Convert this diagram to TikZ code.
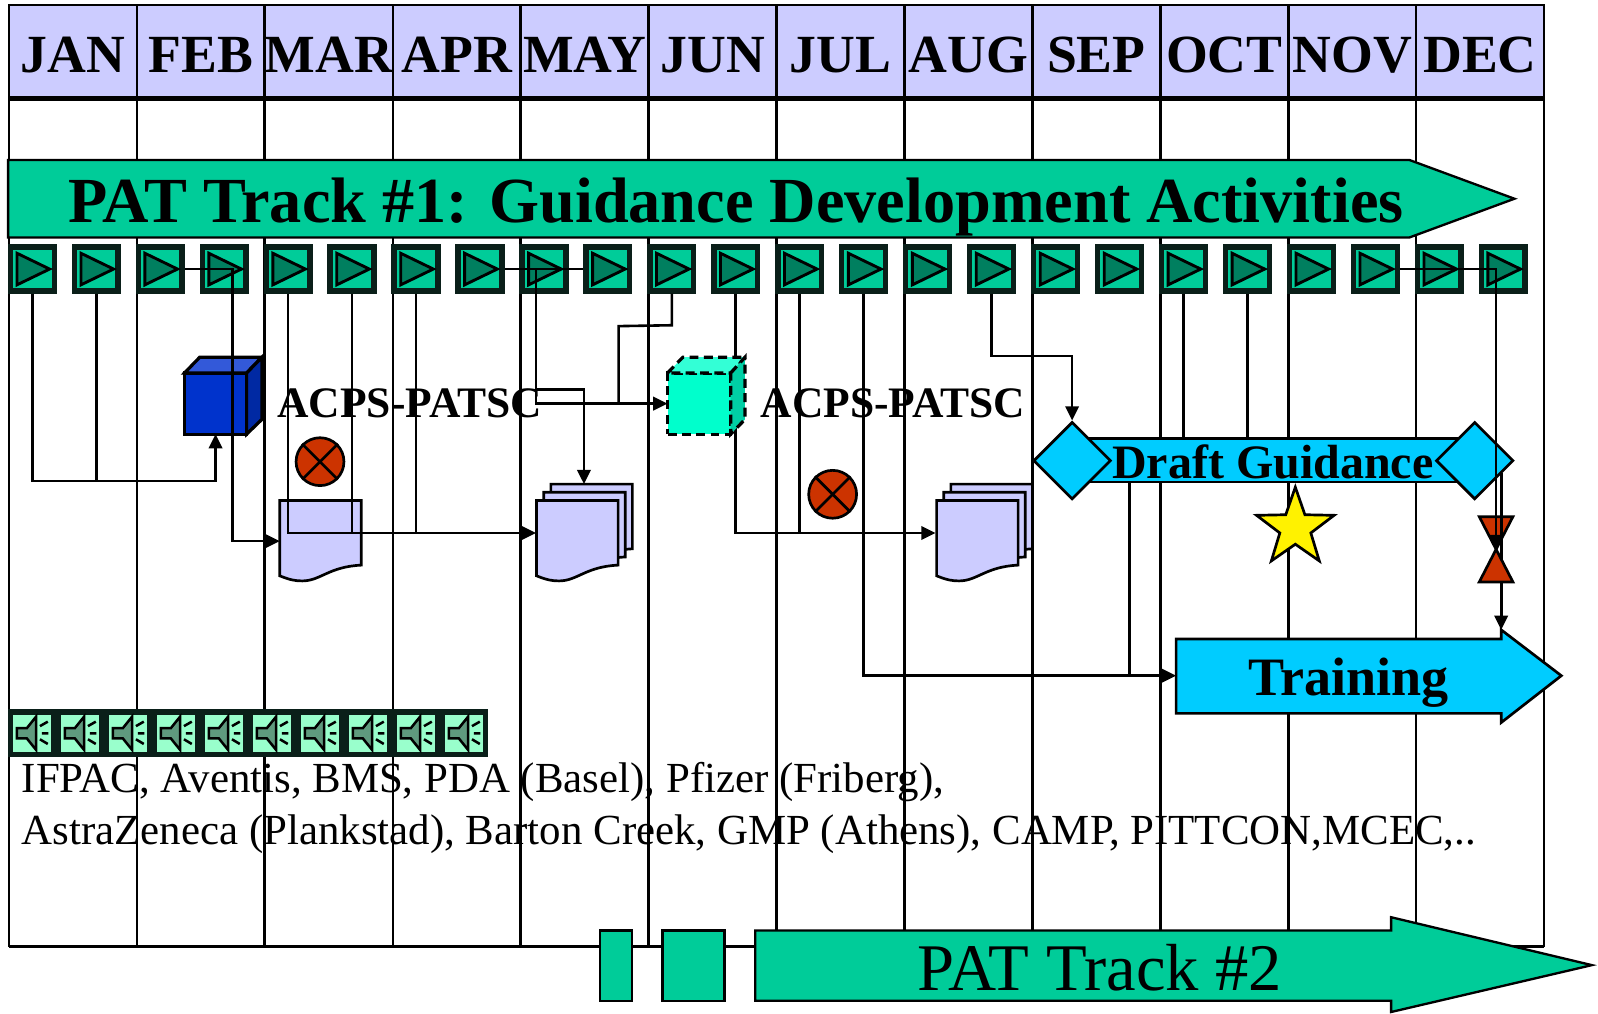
\documentclass[tikz,border=0pt]{standalone}
\usepackage{fontspec}
\setmainfont{Liberation Serif}
\usepackage{tikz}
\usetikzlibrary{positioning,arrows.meta,calc,shapes.geometric}
\definecolor{monthblue}{HTML}{CCCCFF}
\definecolor{trackgreen}{HTML}{00CC99}
\definecolor{playdark}{HTML}{007F5F}
\definecolor{btnedge}{HTML}{0A1F19}
\definecolor{spkmint}{HTML}{99FFCC}
\definecolor{spkdark}{HTML}{5F9A7E}
\definecolor{draftblue}{HTML}{00CCFF}
\definecolor{stopred}{HTML}{CC3300}
\definecolor{cubefront}{HTML}{0033CC}
\definecolor{cubetop}{HTML}{3359D9}
\definecolor{cubeside}{HTML}{0029A3}
\definecolor{aquafront}{HTML}{00FFCC}
\definecolor{aquatop}{HTML}{33FFD6}
\definecolor{aquaside}{HTML}{00CFA5}
\tikzset{
  gridln/.style={line width=1.45pt, black},
  conn/.style={line width=1.45pt, black},
  arr/.style={conn, -{Triangle[length=8pt, width=7.5pt]}},
  monthcell/.style={draw=black, line width=1.45pt, fill=monthblue, minimum width=2.51cm, minimum height=1.84cm,
                    inner sep=0pt, outer sep=0pt, font=\fontsize{30}{34}\selectfont\bfseries},
  playbtn/.style={draw=btnedge, line width=3pt, fill=trackgreen, minimum size=0.86cm, inner sep=0pt},
  spkbtn/.style={draw=btnedge, line width=3pt, fill=spkmint, minimum size=0.84cm, inner sep=0pt},
  trackshape/.style={draw=black, line width=1.3pt, fill=trackgreen},
  draftshape/.style={draw=black, line width=1.5pt, fill=draftblue},
  draftdia/.style={draftshape, diamond, aspect=1, minimum size=1.52cm, inner sep=0pt},
  phantombox/.style={minimum width=1.6cm, minimum height=1.6cm, inner sep=0pt, outer sep=0pt},
  xmark/.style={circle, draw=black, line width=1.5pt, fill=stopred, minimum size=0.94cm, inner sep=0pt},
  boldlab/.style={font=\fontsize{24.3}{28}\selectfont\bfseries, inner sep=0pt},
  cubeline/.style={line width=1.8pt, draw=black},
  aqualine/.style={line width=1.8pt, draw=black, dash pattern=on 5pt off 3pt},
  playmark/.pic={\draw[line width=1.6pt, fill=playdark] (-15,-15.5) -- (17,0) -- (-15,15.5) -- cycle;},
  spkmark/.pic={
    \draw[line width=1.4pt, fill=spkdark] (-14.7,-5) -- (-4.9,-5) -- (4.2,-16.3) -- (4.2,16.3) -- (-4.9,5) -- (-14.7,5) -- cycle;
    \draw[line width=1.4pt] (8,-7) -- (15.7,-11.4) (9.8,0) -- (16.3,0) (8,5.9) -- (15.7,10.5);},
  docpage/.pic={\draw[line width=1.5pt, fill=monthblue] (0,0) -- (80,0) -- (80,63.5)
    .. controls (48,65) and (40,79) .. (22,79) .. controls (15,79) and (10,78) .. (0,74) -- cycle;},
}

\begin{document}
\begin{tikzpicture}[x=0.02cm, y=-0.02cm]
  \useasboundingbox (0,0) rectangle (1568,994);
  % months and the grid under them
  \foreach \m [count=\i] in {JAN,FEB,MAR,APR,MAY,JUN,JUL,AUG,SEP,OCT,NOV,DEC}
    \node[monthcell] (m\i) at ({9+125.5*(\i-.5)},51) {\raisebox{-11.2pt}[0pt][0pt]{\m}};
  \coordinate (gridbot) at (9,929);
  \foreach \i in {1,...,12} \draw[gridln] (m\i.south west) -- (m\i.south west |- gridbot);
  \draw[gridln] (m12.south east) -- (m12.south east |- gridbot);
  \draw[gridln] (gridbot) -- (m12.south east |- gridbot);
  \draw[line width=2.8pt] (m1.south west) -- (m12.south east);
  % track 1 arrow and its buttons
  \draw[trackshape] (8,157) -- (1383,157) -- (1486,195) -- (1383,233) -- (8,233) -- cycle;
  \node[font=\fontsize{35.9}{40}\selectfont\bfseries, inner sep=0pt] (trackone) at (722,203) {PAT Track \#1: Guidance Development Activities};
  \foreach \i in {1,...,24} {
    \node[playbtn] (b\i) at ({31.7+62.75*(\i-1)},264) {};
    \pic at (b\i) {playmark};
  }
  % things that the connectors run over
  \node[cubeline, fill=cubefront, minimum width=1.22cm, minimum height=1.2cm, inner sep=0pt, outer sep=0pt] (cubea) at (211.5,396) {};
  \draw[cubeline, fill=cubetop] (cubea.north west) -- ++(15,-15.5) -- ++(61,0) -- (cubea.north east) -- cycle;
  \draw[cubeline, fill=cubeside] (cubea.north east) -- ++(15,-15.5) -- ++(0,61) -- (cubea.south east) -- cycle;
  \node[phantombox] (d1) at (314.5,531) {};
  \pic at (d1.north west) {docpage};
  \node[phantombox] (d2) at (566.5,531) {};
  \node[phantombox] (d3) at (959,531) {};
  \foreach \n in {d2,d3} {
    \pic at ([shift={(14,-16)}]\n.north west) {docpage};
    \pic at ([shift={(7,-8)}]\n.north west) {docpage};
    \pic at (\n.north west) {docpage};
  }
  \node[xmark] (xa) at (314,453) {};
  \node[xmark] (xb) at (817,485) {};
  \foreach \n in {xa,xb} {
    \draw[line width=1.5pt] (\n.45) -- (\n.225);
    \draw[line width=1.5pt] (\n.135) -- (\n.315);
  }
  \node[draftshape, minimum width=7.2cm, minimum height=0.86cm, inner sep=0pt] (draft) at (1250,451.5) {};
  \node[draftdia] (dgl) at (1052,452) {};
  \node[draftdia] (dgr) at (1447,452) {};
  \node[font=\fontsize{26.8}{30}\selectfont\bfseries, inner sep=0pt] (drafttxt) at (1249,453) {Draft Guidance};
  \draw[draftshape] (1154,627) -- (1473,627) -- (1473,618) -- (1532,663) -- (1473,709) -- (1473,700) -- (1154,700) -- cycle;
  \node[font=\fontsize{30.2}{34}\selectfont\bfseries, inner sep=0pt] (trn) at (1323,670) {Training};
  \node[star, star points=5, star point ratio=2.5, draw=black, line width=1.5pt, fill=yellow, minimum size=1.6cm, inner sep=0pt] (gold) at (1271,518) {};
  \coordinate (hg) at (1468,539);
  \draw[line width=1.5pt, fill=stopred] (hg) -- ++(-16.5,-32) -- ++(33,0) -- cycle;
  % connectors
  \coordinate (cb4) at (228,264);
  \coordinate (cb9) at (526,264);
  \coordinate (cb24) at (1468,264);
  \coordinate (d2in) at (526,523);
  \coordinate (d3in) at (918,523);
  \coordinate (cubeb) at (655,396);
  \coordinate (trnin) at (1154,663);
  \coordinate (dlow) at (1108,473);
  \coordinate (dright) at (1473,464);
  \coordinate (trntop) at (1473,618);
  \draw[arr] (b1.south) -- ++(0,184) -| (cubea.south);
  \draw[conn] (b2.south) -- ++(0,184);
  \draw[arr] (b3.east) -- (cb4) |- (d1.west);
  \draw[arr] (b5.south) |- (d2in);
  \draw[conn] (b6.south) -- (b6.south |- d2in);
  \draw[conn] (b7.south) -- (b7.south |- d2in);
  \draw[conn] (b8.east) -- (b10.west);
  \draw[arr] (cb9) |- (cubeb);
  \draw[arr] (526,382) -- (573,382) -- (573,475);
  \draw[conn] (b11.south) -- ++(0,31) -- (607,320) -- (607,396);
  \draw[arr] (b12.south) |- (d3in);
  \draw[conn] (b13.south) -- (b13.south |- d3in);
  \draw[arr] (b14.south) |- (trnin);
  \draw[conn] (dlow) -- (dlow |- trnin);
  \draw[arr] (b16.south) -- ++(0,61) -| (dgl.north);
  \draw[conn] (b19.south) -- (b19.south |- draft.north);
  \draw[conn] (b20.south) -- (b20.south |- draft.north);
  \draw[arr] (dright) -- (trntop);
  \draw[arr] (b22.east) -- (cb24) -- (hg);
  \draw[line width=1.5pt, fill=stopred] (hg) -- ++(-16.5,32) -- ++(33,0) -- cycle;
  % second cube sits on the connectors
  \node[aqualine, fill=aquafront, minimum width=1.24cm, minimum height=1.2cm, inner sep=0pt, outer sep=0pt] (cubec) at (686,396) {};
  \draw[aqualine, fill=aquatop] (cubec.north west) -- ++(15,-15.5) -- ++(62,0) -- (cubec.north east) -- cycle;
  \draw[aqualine, fill=aquaside] (cubec.north east) -- ++(14,-15.5) -- ++(0,61) -- (cubec.south east) -- cycle;
  \node[boldlab] (acpsa) at (402,396) {ACPS-PATSC};
  \node[boldlab] (acpsb) at (876,396) {ACPS-PATSC};
  % speaker row and the list of meetings
  \foreach \i in {1,...,10} {
    \node[spkbtn] (s\i) at ({31.2+47.1*(\i-1)},719.5) {};
    \pic at (s\i) {spkmark};
  }
  \node[font=\fontsize{23.95}{28.9}\selectfont, align=left, anchor=north west, inner sep=0pt] (meets) at (21,748)
    {IFPAC, Aventis, BMS, PDA (Basel), Pfizer (Friberg),\\AstraZeneca (Plankstad), Barton Creek, GMP (Athens), CAMP, PITTCON,MCEC,..};
  % track 2
  \node[trackshape, minimum width=0.62cm, minimum height=1.38cm, inner sep=0pt] (stuba) at (604.5,947.5) {};
  \node[trackshape, minimum width=1.22cm, minimum height=1.38cm, inner sep=0pt] (stubb) at (680.5,947.5) {};
  \draw[trackshape] (741,913) -- (1365,913) -- (1365,900) -- (1562,947) -- (1365,993) -- (1365,982) -- (741,982) -- cycle;
  \node[font=\fontsize{37.2}{42}\selectfont, inner sep=0pt] (tracktwo) at (1079,950) {PAT Track \#2};
\end{tikzpicture}
\end{document}
